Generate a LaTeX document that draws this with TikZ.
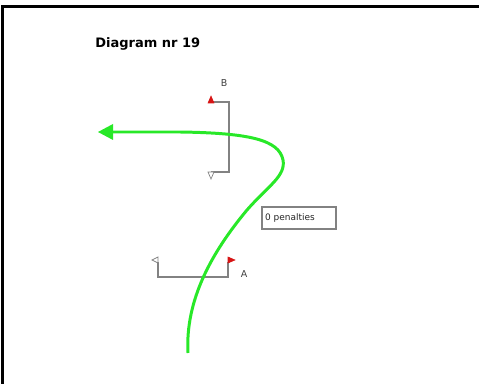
\documentclass[tikz,border=0pt]{standalone}
\usepackage{fontspec}
\setmainfont{DejaVu Sans}
\definecolor{pathgreen}{RGB}{40,232,40}
\definecolor{gategray}{RGB}{130,130,130}
\definecolor{flagred}{RGB}{215,20,20}
\begin{document}
\begin{tikzpicture}[%
      x=0.02cm, y=-0.02cm,
      gateline/.style={draw=gategray, line width=0.6pt},
      redflag/.style={fill=flagred, draw=flagred, line width=0.3pt},
      whiteflag/.style={fill=white, draw=gategray, line width=0.4pt},
      gatelabel/.style={text=black!75, font=\fontsize{5.4}{6}\selectfont, inner sep=0pt},
      ]
      \useasboundingbox (0,0) rectangle (479,384);
      \draw [line width=1.2pt] (2.5,384) -- (2.5,6.5) -- (479,6.5);

      \node (title) [anchor=base west, inner sep=0pt, font=\fontsize{7.4}{9}\bfseries\selectfont] at (95,48) {Diagram nr 19};

      \coordinate (Btop) at (229,102);
      \coordinate (Bbot) at (229,172);
      \draw [gateline] (211,102) -- (Btop) -- (Bbot) -- (211,172);
      \filldraw [redflag] (208,103) -- (214,103) -- (211,96) -- cycle;
      \filldraw [whiteflag] (208,172) -- (214,172) -- (211,179) -- cycle;
      \node (labelB) [gatelabel] at (224,83) {B};

      \coordinate (Aleft) at (158,277);
      \coordinate (Aright) at (228,277);
      \draw [gateline] (158,262) -- (Aleft) -- (Aright) -- (228,262);
      \filldraw [redflag] (228,257) -- (228,263) -- (235,260) -- cycle;
      \filldraw [whiteflag] (158,257) -- (158,263) -- (152,260) -- cycle;
      \node (labelA) [gatelabel] at (244,274) {A};

      \node (penalty) [draw=gategray, line width=0.6pt, minimum width=74*0.02cm, minimum height=22*0.02cm,
            text width=68*0.02cm, inner sep=0pt, align=left, text=black!85, font=\fontsize{5.1}{6}\selectfont] at (299,218) {0 penalties};

      \coordinate (start) at (188,353);
      \coordinate (finish) at (98,132);
      \draw [draw=pathgreen, line width=1.7pt] (start) .. controls (185,300) and (212,252) .. (247,210)
            .. controls (268,186) and (286,176) .. (283,160)
            .. controls (279,140) and (250,133) .. (180,132) -- (112,132);
      \fill [pathgreen] (finish) -- (113,124) -- (113,140) -- cycle;
      \end{tikzpicture}
\end{document}
